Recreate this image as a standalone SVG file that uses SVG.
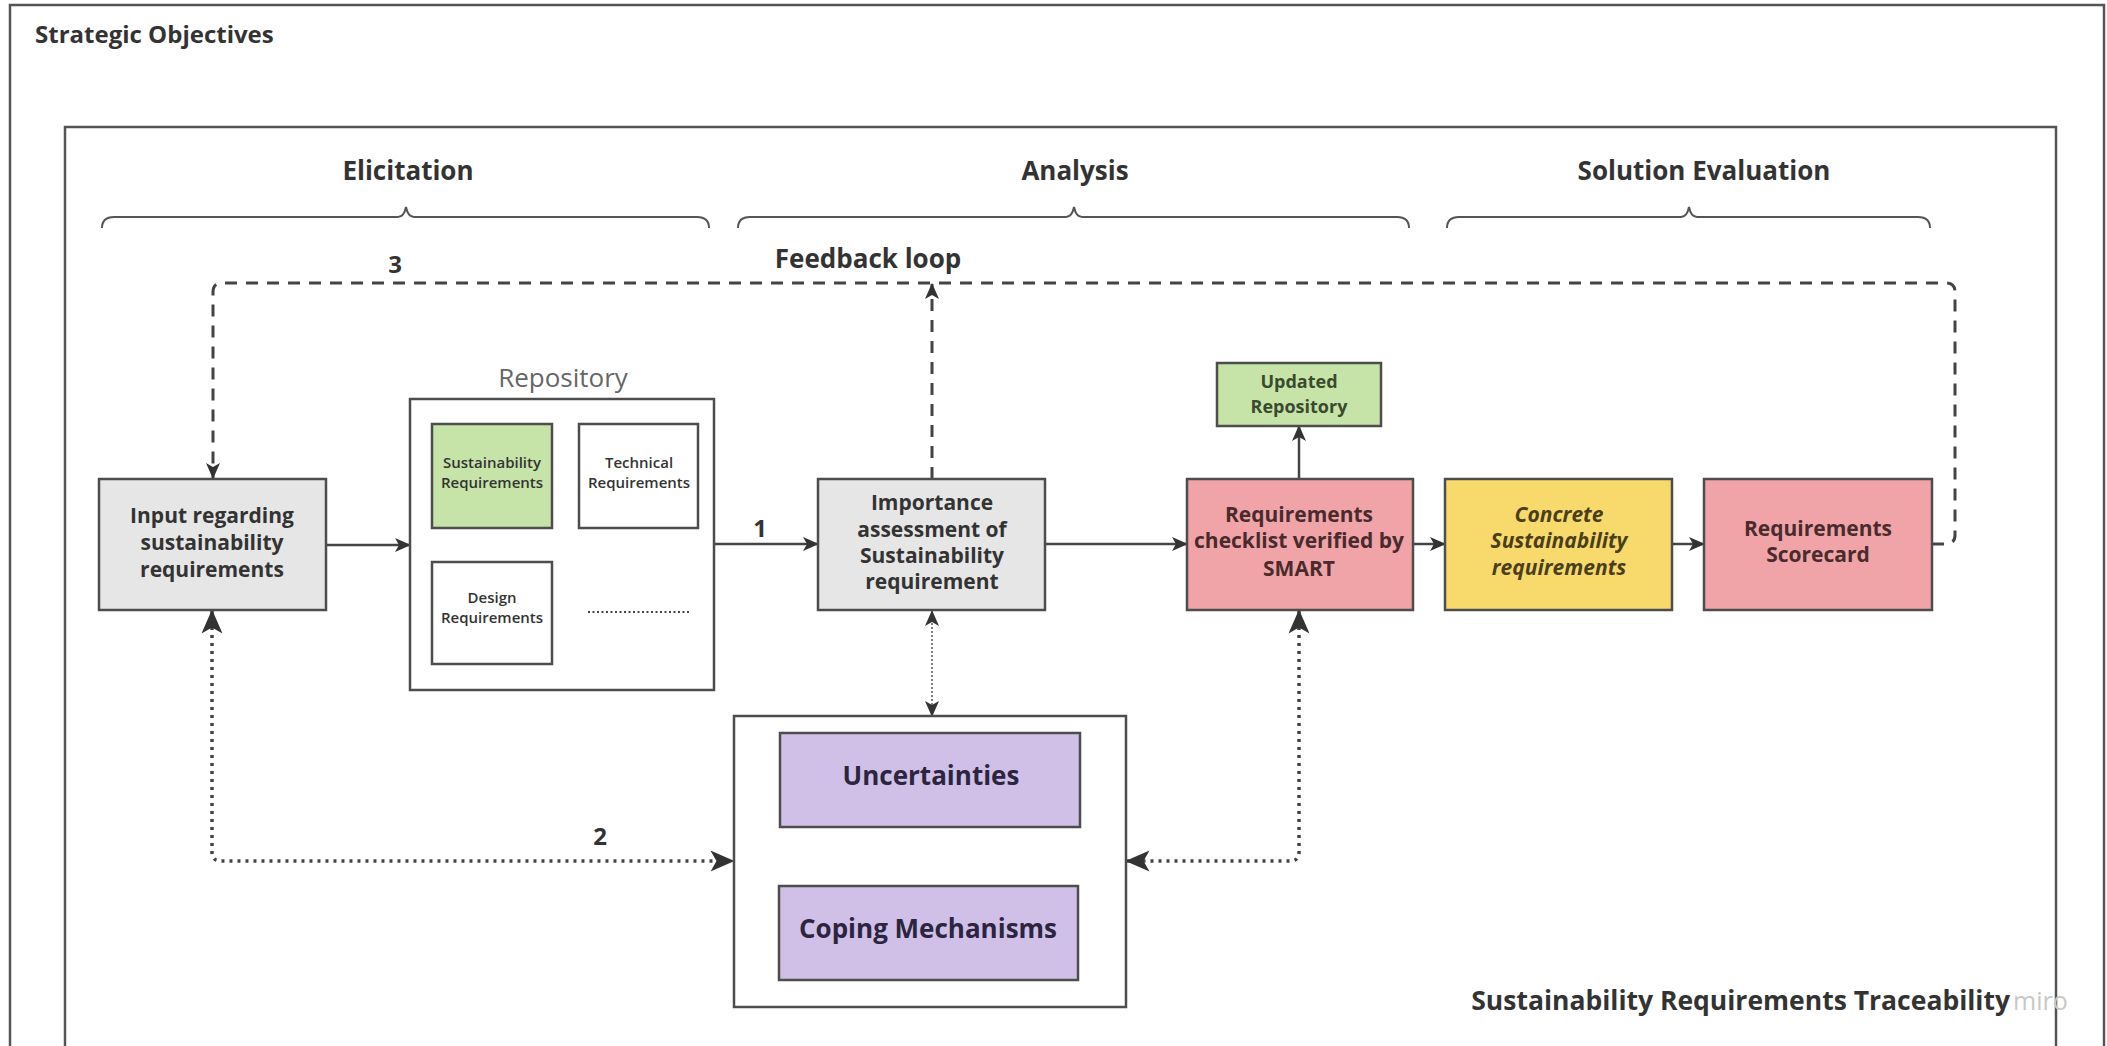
<svg xmlns="http://www.w3.org/2000/svg" width="2107" height="1046" viewBox="0 0 2107 1046">
<defs>
<style>
text{font-family:"Open Sans","Liberation Sans",sans-serif;fill:#333;}
.b{font-weight:700;}
.h{font-size:26px;font-weight:700;text-anchor:middle;}
.t{font-size:21px;font-weight:700;text-anchor:middle;}
.s{font-size:15px;font-weight:600;text-anchor:middle;}
.box{stroke:#4d4d4d;stroke-width:2.5;}
.frame{fill:none;stroke:#555;stroke-width:2.5;}
.brace{fill:none;stroke:#555;stroke-width:2;}
.solid{fill:none;stroke:#444;stroke-width:2.5;}
.dash{fill:none;stroke:#444;stroke-width:3;stroke-dasharray:12 9;}
.dot{fill:none;stroke:#444;stroke-width:3.5;stroke-dasharray:3 5;}
.tdot{fill:none;stroke:#555;stroke-width:1.5;stroke-dasharray:2 2;}
.tdash{fill:none;stroke:#666;stroke-width:1.5;stroke-dasharray:4 3;}
</style>
<marker id="arr" viewBox="0 0 16 16" refX="15" refY="8" markerWidth="16" markerHeight="16" markerUnits="userSpaceOnUse" orient="auto-start-reverse">
<path d="M0,1 L16,8 L0,15 L4,8 z" fill="#333"/>
</marker>
<marker id="arrL" viewBox="0 0 16 16" refX="15" refY="8" markerWidth="24" markerHeight="24" markerUnits="userSpaceOnUse" orient="auto-start-reverse">
<path d="M0,1 L16,8 L0,15 L4,8 z" fill="#333"/>
</marker>
<marker id="arrS" viewBox="0 0 16 16" refX="15" refY="8" markerWidth="12" markerHeight="12" markerUnits="userSpaceOnUse" orient="auto-start-reverse">
<path d="M0,1 L16,8 L0,15 L4,8 z" fill="#333"/>
</marker>
</defs>
<rect width="2107" height="1046" fill="#fff"/>

<g id="frames">
<rect class="frame" x="10" y="5" width="2094" height="1100"/>
<text class="b" x="35" y="43" font-size="24">Strategic Objectives</text>
<rect class="frame" x="65" y="127" width="1991" height="1000"/>
<text class="b" x="2010" y="1010" font-size="26.5" text-anchor="end">Sustainability Requirements Traceability</text>
<text x="2013" y="1010" font-size="25" style="fill:#c8c8c8">miro</text>
</g>

<g id="phases">
<text class="h" x="408" y="180">Elicitation</text>
<path class="brace" d="M102,228 Q102,217 114,217 L398,217 Q404,217 406,207 Q408,217 414,217 L697,217 Q709,217 709,228"/>
<text class="h" x="1075" y="180">Analysis</text>
<path class="brace" d="M738,228 Q738,217 750,217 L1066,217 Q1072,217 1074,207 Q1076,217 1082,217 L1397,217 Q1409,217 1409,228"/>
<text class="h" x="1704" y="180">Solution Evaluation</text>
<path class="brace" d="M1447,228 Q1447,217 1459,217 L1681,217 Q1687,217 1689,207 Q1691,217 1697,217 L1918,217 Q1930,217 1930,228"/>
</g>

<g id="connectors">
<path class="solid" d="M326,545 H410" marker-end="url(#arr)"/>
<path class="solid" d="M714,544 H818" marker-end="url(#arr)"/>
<path class="solid" d="M1045,544 H1187" marker-end="url(#arr)"/>
<path class="solid" d="M1413,544 H1445" marker-end="url(#arr)"/>
<path class="solid" d="M1672,544 H1704" marker-end="url(#arr)"/>
<path class="solid" d="M1299,479 V426" marker-end="url(#arr)"/>
<path class="dash" d="M1932,544 H1946 Q1955,544 1955,535 V292 Q1955,283 1946,283 H222 Q213,283 213,292 V478" marker-end="url(#arr)"/>
<path class="dash" d="M932,479 V284" marker-end="url(#arr)"/>
<path class="dot" d="M212,611 V852 Q212,861 221,861 H733" marker-start="url(#arrL)" marker-end="url(#arrL)"/>
<path class="dot" d="M1299,611 V852 Q1299,861 1290,861 H1127" marker-start="url(#arrL)" marker-end="url(#arrL)"/>
<path class="tdot" d="M932,611 V716" marker-start="url(#arr)" marker-end="url(#arr)"/>
<path class="tdash" d="M830,828 V886" marker-end="url(#arrS)"/>
<path class="tdash" d="M1018,886 V828" marker-end="url(#arrS)"/>
<text class="b" x="395" y="273" font-size="24" text-anchor="middle">3</text>
<text class="b" x="868" y="268" font-size="26" text-anchor="middle">Feedback loop</text>
<text class="b" x="760" y="537" font-size="24" text-anchor="middle">1</text>
<text class="b" x="600" y="845" font-size="24" text-anchor="middle">2</text>
</g>

<g id="input">
<rect class="box" x="99" y="479" width="227" height="131" fill="#e6e6e6"/>
<text class="t" x="212" y="523">Input regarding</text>
<text class="t" x="212" y="550">sustainability</text>
<text class="t" x="212" y="577">requirements</text>
</g>

<g id="repository">
<text x="563" y="387" font-size="26" text-anchor="middle" style="fill:#666">Repository</text>
<rect class="box" x="410" y="399" width="304" height="291" fill="#fff"/>
</g>
<g id="sustainability-req">
<rect class="box" x="432" y="424" width="120" height="104" fill="#c6e4a8"/>
<text class="s" x="492" y="468">Sustainability</text>
<text class="s" x="492" y="488">Requirements</text>
</g>
<g id="technical-req">
<rect class="box" x="579" y="424" width="119" height="104" fill="#fff"/>
<text class="s" x="639" y="468">Technical</text>
<text class="s" x="639" y="488">Requirements</text>
</g>
<g id="design-req">
<rect class="box" x="432" y="562" width="120" height="102" fill="#fff"/>
<text class="s" x="492" y="603">Design</text>
<text class="s" x="492" y="623">Requirements</text>
</g>
<g id="more-req">
<line x1="588" y1="612" x2="690" y2="612" stroke="#444" stroke-width="2" stroke-dasharray="2 2.5"/>
</g>

<g id="importance">
<rect class="box" x="818" y="479" width="227" height="131" fill="#e6e6e6"/>
<text class="t" x="932" y="510">Importance</text>
<text class="t" x="932" y="537">assessment of</text>
<text class="t" x="932" y="563">Sustainability</text>
<text class="t" x="932" y="589">requirement</text>
</g>

<g id="updated-repository">
<rect class="box" x="1217" y="363" width="164" height="63" fill="#c6e4a8"/>
<text class="b" x="1299" y="388" font-size="18" text-anchor="middle" style="fill:#3a4a2f">Updated</text>
<text class="b" x="1299" y="413" font-size="18" text-anchor="middle" style="fill:#3a4a2f">Repository</text>
</g>

<g id="checklist">
<rect class="box" x="1187" y="479" width="226" height="131" fill="#f0a4a7"/>
<text class="t" x="1299" y="522" style="fill:#4a2b2d">Requirements</text>
<text class="t" x="1299" y="548" style="fill:#4a2b2d">checklist verified by</text>
<text class="t" x="1299" y="576" style="fill:#4a2b2d">SMART</text>
</g>

<g id="concrete">
<rect class="box" x="1445" y="479" width="227" height="131" fill="#f8da6c"/>
<text class="t" x="1559" y="522" font-style="italic" style="fill:#4a3f1a">Concrete</text>
<text class="t" x="1559" y="548" font-style="italic" style="fill:#4a3f1a">Sustainability</text>
<text class="t" x="1559" y="575" font-style="italic" style="fill:#4a3f1a">requirements</text>
</g>

<g id="scorecard">
<rect class="box" x="1704" y="479" width="228" height="131" fill="#f0a4a7"/>
<text class="t" x="1818" y="536" style="fill:#4a2b2d">Requirements</text>
<text class="t" x="1818" y="562" style="fill:#4a2b2d">Scorecard</text>
</g>

<g id="uncertainty-group">
<rect class="box" x="734" y="716" width="392" height="291" fill="#fff"/>
</g>
<g id="uncertainties">
<rect class="box" x="780" y="733" width="300" height="94" fill="#d0c0e8"/>
<text class="h" x="931" y="785" style="fill:#2b2540">Uncertainties</text>
</g>
<g id="coping">
<rect class="box" x="779" y="886" width="299" height="94" fill="#d0c0e8"/>
<text class="h" x="928" y="938" style="fill:#2b2540">Coping Mechanisms</text>
</g>
</svg>
